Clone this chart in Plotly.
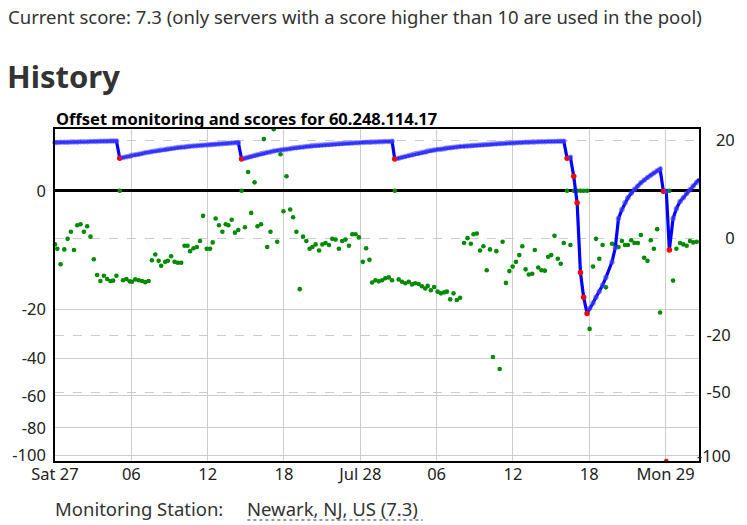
import math
from datetime import datetime, timedelta
import plotly.graph_objects as go

START = datetime(2019, 7, 27, 0, 0)
END_HOURS = 50.63

check_hours = [0.00,0.18,0.44,0.73,0.99,1.25,1.49,1.75,2.01,2.27,2.53,2.79,3.05,3.31,3.57,3.84,4.10,4.36,4.57,4.83,
5.09,5.35,5.61,5.87,6.05,6.31,6.58,6.84,7.10,7.36,7.62,7.88,8.15,8.35,8.66,8.87,9.13,9.40,9.66,9.92,
10.18,10.42,10.62,10.89,11.15,11.40,11.64,11.93,12.19,12.40,12.63,12.89,13.16,13.42,13.63,13.89,14.15,14.41,14.67,14.93,
15.18,15.42,15.69,15.92,16.20,16.42,16.68,16.94,17.20,17.47,17.73,17.96,18.20,18.49,18.72,18.98,19.24,19.50,19.76,20.02,
20.23,20.49,20.76,21.02,21.27,21.54,21.80,22.06,22.32,22.58,22.84,23.11,23.37,23.63,23.89,24.20,24.46,24.72,24.93,25.19,
25.46,25.72,25.97,26.24,26.50,26.71,27.02,27.28,27.54,27.81,28.07,28.32,28.59,28.85,29.11,29.30,29.55,29.81,30.08,30.34,
30.60,30.81,31.07,31.33,31.59,31.85,32.16,32.43,32.69,32.90,33.16,33.42,33.68,33.94,34.20,34.43,34.70,34.96,35.19,35.45,
35.72,35.98,36.24,36.50,36.74,37.00,37.25,37.52,37.72,37.99,38.25,38.51,38.77,39.01,39.27,39.53,39.76,40.00,40.26,40.52,
40.78,41.05,41.31,41.56,41.83,42.03,42.30,42.53,42.79,43.05,43.31,43.79,44.05,44.30,44.57,44.81,45.04,45.30,45.56,45.82,
46.06,46.32,46.58,46.84,47.08,47.34,47.57,47.83,48.06,48.30,48.59,48.85,49.14,49.40,49.66,49.92,50.18,50.45,50.65]

offset_ms = [-4.1,-4.8,-7.7,-4.9,-3.3,-2.4,-5.0,-1.7,-1.6,-2.4,-1.8,-3.0,-6.7,-10.1,-11.6,-10.3,-11.1,-11.6,-11.5,-10.3,
0,-11.4,-11.1,-11.7,-11.8,-11.2,-11.4,-11.6,-11.9,-11.6,-6.9,-5.8,-7.0,-8.0,-7.2,-7.0,-6.1,-7.2,-7.4,-7.4,
-4.3,-4.3,-5.2,-4.7,-4.5,-3.6,-0.9,-4.8,-4.8,-3.8,-1.1,-1.7,-2.4,-1.6,-1.7,-1.2,-2.5,-2.2,0,-1.9,
0.5,-0.7,0.1,-1.8,-1.6,3.8,-4.5,-2.4,5.4,-3.7,1.9,-0.6,0.3,-0.5,-1.0,-2.4,-13.8,-3.0,-3.6,-4.8,
-4.5,-4.1,-5.1,-4.1,-3.9,-4.2,-3.3,-3.4,-4.8,-3.6,-3.4,-4.3,-2.7,-2.7,-3.1,-7.2,-4.7,-6.8,-12.0,-11.4,
-11.7,-11.4,-10.9,-10.7,-11.4,0,-11.2,-11.8,-12.2,-11.8,-12.5,-12.2,-12.4,-13.0,-13.6,-12.9,-14.1,-13.2,-14.5,-15.0,
-14.7,-14.5,-16.8,-15.0,-17.0,-16.3,-3.9,-3.2,-4.0,-2.7,-2.6,-5.1,-4.4,-9.0,-4.9,-39.4,-5.2,-45.3,-3.7,-12.1,
-9.2,-8.2,-7.2,-5.9,-4.4,-8.8,-10.0,-9.8,-5.0,-8.4,-9.0,-9.1,-6.2,-5.9,-2.9,-6.6,-7.6,-3.9,0,-4.2,
0,0,0,0,0,-27.2,-8.2,-3.3,-6.6,-4.2,-13.3,-4.0,-4.2,-4.5,-3.6,-4.2,-4.2,-3.5,-3.9,-3.9,
-2.8,-6.4,-7.0,-3.5,-4.8,-2.1,-21.1,0,-150,0,-11.5,-4.8,-3.9,-4.1,-4.3,-3.6,-3.8,-3.7,-3.4]

score = [19.2,19.2,19.3,19.3,19.3,19.4,19.4,19.4,19.5,19.5,19.5,19.6,19.6,19.6,19.7,19.7,19.7,19.8,19.8,19.8,
13.4,13.6,13.9,14.1,14.4,14.6,14.8,15.0,15.3,15.5,15.7,15.9,16.1,16.3,16.5,16.7,16.9,17.0,17.2,17.3,
17.4,17.6,17.7,17.8,17.9,18.0,18.1,18.2,18.3,18.4,18.5,18.6,18.7,18.8,18.9,19.0,19.1,19.2,13.1,13.4,
13.7,14.0,14.3,14.6,14.9,15.1,15.4,15.6,15.9,16.1,16.3,16.5,16.6,16.8,17.0,17.1,17.3,17.4,17.6,17.7,
17.9,18.0,18.1,18.2,18.3,18.4,18.5,18.6,18.7,18.8,18.9,18.9,19.0,19.1,19.1,19.2,19.3,19.3,19.4,19.4,
19.5,19.5,19.6,19.6,19.7,13.1,13.4,13.7,14.0,14.3,14.6,14.9,15.1,15.4,15.6,15.9,16.1,16.3,16.5,16.6,
16.8,17.0,17.1,17.3,17.4,17.6,17.7,17.8,17.9,18.0,18.1,18.2,18.3,18.4,18.5,18.6,18.7,18.8,18.8,18.9,
19.0,19.0,19.1,19.2,19.2,19.3,19.3,19.4,19.4,19.5,19.5,19.5,19.6,19.6,19.6,19.7,19.7,19.7,13.4,13.7,
8.0,2.6,-2.5,-7.4,-12.0,-10.4,-8.9,-7.4,-6.0,-4.7,-3.3,-1.2,-0.2,0.8,1.7,2.6,3.4,4.2,5.0,5.7,
6.4,7.1,7.7,8.3,8.9,9.5,10.0,4.6,4.6,-0.3,0.8,1.8,2.8,3.4,4.2,4.9,5.7,6.5,7.3]

x_tick_hours = [0, 6, 12, 18, 24, 30, 36, 42, 48]
x_tick_labels = ["Sat 27", "06", "12", "18", "Jul 28", "06", "12", "18", "Mon 29"]
offset_ticks = [0, -20, -40, -60, -80, -100]
score_ticks = [20, 0, -20, -50, -100]

server_ip = "60.248.114.17"
current_score = 7.3
station = "Newark, NJ, US (7.3)"


def sq(v):
    """symmetric square-root scale (like a d3 pow scale with exponent 0.5)"""
    return math.copysign(math.sqrt(abs(v)), v)


Y1_RANGE = [-10.2, 2.33]
Y2_RANGE = [-10.23, 5.0]

times = [START + timedelta(hours=h) for h in check_hours]
off_t = [min(max(sq(v), Y1_RANGE[0]), Y1_RANGE[1]) for v in offset_ms]
off_col = ["red" if v < -100 else "#008a00" for v in offset_ms]
score_t = [sq(v) for v in score]
BLUE_M = "rgba(70,70,255,0.6)"
score_col = [BLUE_M] + ["red" if score[i] < score[i - 1] else BLUE_M for i in range(1, len(score))]

FONT = "Noto Sans"

# page 747x525, plot area x 53..699, y 129..461
W, H = 747, 525
L, T = 53, 129
PW, PH = 646, 332

fig = go.Figure()
fig.add_trace(go.Scatter(
    x=times, y=off_t, mode="markers", yaxis="y",
    marker=dict(size=4.6, color=off_col, line=dict(width=0)),
    cliponaxis=False, showlegend=False, name="offset",
))
fig.add_trace(go.Scatter(
    x=times, y=score_t, mode="lines+markers", yaxis="y2",
    line=dict(color="#0000ff", width=3.2),
    marker=dict(size=5.5, color=score_col, line=dict(width=0)),
    cliponaxis=False, showlegend=False, name="score",
))


def pad(label, width):
    return "\u2007" * (width - len(label)) + label


score_labels = [pad(str(v), 4) for v in score_ticks]

fig.update_layout(
    width=W, height=H,
    margin=dict(l=L, r=W - L - PW, t=T, b=H - T - PH),
    paper_bgcolor="white", plot_bgcolor="white",
    font=dict(family=FONT, size=16, color="#222"),
    xaxis=dict(
        type="date",
        range=[START, START + timedelta(hours=END_HOURS)],
        tickvals=[START + timedelta(hours=h) for h in x_tick_hours],
        ticktext=x_tick_labels,
        showgrid=True, gridcolor="#cccccc", gridwidth=1,
        showline=True, linecolor="black", linewidth=1.5, mirror=True,
        ticks="", zeroline=False, ticklabelstandoff=-3,
        tickfont=dict(size=16.5, color="#222"),
    ),
    yaxis=dict(
        range=Y1_RANGE,
        tickvals=[sq(v) for v in offset_ticks],
        ticktext=[str(v) for v in offset_ticks],
        showgrid=True, gridcolor="#cccccc", gridwidth=1,
        zeroline=True, zerolinecolor="black", zerolinewidth=3,
        showline=True, linecolor="black", linewidth=1.5, mirror=True,
        ticks="", ticklabelstandoff=4,
        tickfont=dict(size=16.5, color="#222"),
    ),
    yaxis2=dict(
        range=Y2_RANGE, overlaying="y", side="right",
        tickvals=[sq(v) for v in score_ticks],
        ticktext=score_labels,
        showgrid=True, gridcolor="#cccccc", gridwidth=1, griddash="dash",
        zeroline=False, showline=False, ticks="", ticklabelstandoff=-3,
        tickfont=dict(size=16.5, color="#222"),
    ),
)


def px(x):
    return (x - L) / PW


def py(y):
    return (T + PH - y) / PH


fig.add_annotation(text=f"Current score: {current_score} (only servers with a score higher than 10 are used in the pool)",
                   xref="paper", yref="paper", x=px(4), y=py(16), xanchor="left", yanchor="middle",
                   showarrow=False, font=dict(family=FONT, size=18.5, color="#333"))
fig.add_annotation(text="<b>History</b>", xref="paper", yref="paper", x=px(3), y=py(76),
                   xanchor="left", yanchor="middle", showarrow=False,
                   font=dict(family=FONT, size=31, color="#333"))
fig.add_annotation(text=f"<b>Offset monitoring and scores for {server_ip}</b>", xref="paper", yref="paper",
                   x=px(52), y=py(118), xanchor="left", yanchor="middle", showarrow=False,
                   font=dict(family=FONT, size=16.5, color="black"))
fig.add_annotation(text="Monitoring Station:", xref="paper", yref="paper", x=px(51), y=py(508),
                   xanchor="left", yanchor="middle", showarrow=False,
                   font=dict(family=FONT, size=18.5, color="#333"))
fig.add_annotation(text=station, xref="paper", yref="paper", x=px(244), y=py(508),
                   xanchor="left", yanchor="middle", showarrow=False,
                   font=dict(family=FONT, size=18.5, color="#333"))
fig.add_shape(type="line", xref="paper", yref="paper", x0=px(246), x1=px(422), y0=py(520), y1=py(520),
              line=dict(color="#333", width=1, dash="dot"))

# remove the browser's default 8px body margin so the figure fills the window exactly
fig.write_html("out.html", config={"displayModeBar": False},
               post_script="document.body.style.margin='0';document.body.style.overflow='hidden';")
